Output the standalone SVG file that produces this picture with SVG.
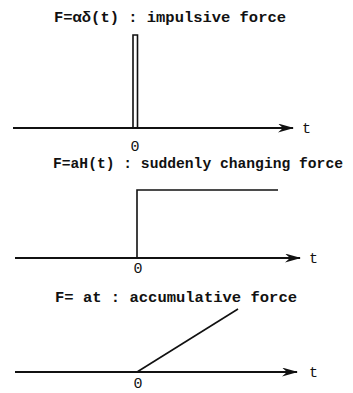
<svg xmlns="http://www.w3.org/2000/svg" width="353" height="393" viewBox="0 0 353 393">
<style>
.t{font-family:"Liberation Mono","DejaVu Sans Mono",monospace;font-size:15px;font-weight:bold;fill:#111}
.l{font-family:"Liberation Mono","DejaVu Sans Mono",monospace;font-size:15px;fill:#111}
.ax{stroke:#111;stroke-width:2;fill:none}
.cv{stroke:#111;stroke-width:1.6;fill:none}
</style>
<defs>
<marker id="ah" markerWidth="16" markerHeight="9" refX="15" refY="4.5" orient="auto" markerUnits="userSpaceOnUse">
<path d="M0,0 L16,4.5 L0,9 L5,4.5 Z" fill="#111"/>
</marker>
</defs>
<rect width="353" height="393" fill="#fff"/>
<g id="connectors">
<line class="ax" x1="13" y1="128" x2="293" y2="128" marker-end="url(#ah)"/>
<line class="ax" x1="15" y1="258" x2="300" y2="258" marker-end="url(#ah)"/>
<line class="ax" x1="15" y1="372" x2="297" y2="372" marker-end="url(#ah)"/>
</g>
<g id="impulse">
<text class="t" x="54" y="22" textLength="232" lengthAdjust="spacingAndGlyphs">F=αδ(t) : impulsive force</text>
<path class="cv" d="M133,128 V35 H137.5 V128"/>
<text class="l" x="135" y="151" text-anchor="middle">0</text>
<text class="l" x="302" y="133">t</text>
</g>
<g id="step">
<text class="t" x="53" y="168" textLength="290" lengthAdjust="spacingAndGlyphs">F=aH(t) : suddenly changing force</text>
<path class="cv" d="M137,258 V190 H278"/>
<text class="l" x="138" y="273" text-anchor="middle">0</text>
<text class="l" x="309" y="263">t</text>
</g>
<g id="ramp">
<text class="t" x="55" y="302" textLength="242" lengthAdjust="spacingAndGlyphs">F= at : accumulative force</text>
<path class="cv" d="M137,372 L238,309"/>
<text class="l" x="138" y="388" text-anchor="middle" font-size="14">0</text>
<text class="l" x="309" y="377">t</text>
</g>
</svg>
